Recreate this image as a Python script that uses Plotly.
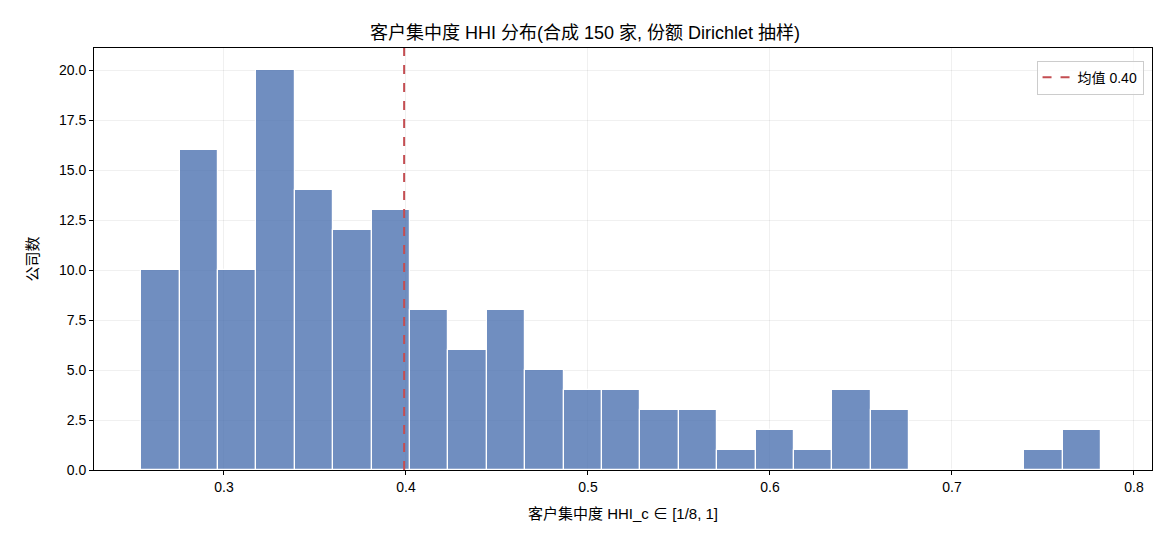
import numpy as np
import plotly.graph_objects as go

# Data
hhi_min = 0.2545
hhi_max = 0.782
counts = [10, 16, 10, 20, 14, 12, 13, 8, 6, 8, 5, 4, 4, 3, 3, 1, 2, 1, 4, 3, 0, 0, 0, 1, 2]
mean_hhi = 0.399

title = "客户集中度 HHI 分布(合成 150 家, 份额 Dirichlet 抽样)"
xlabel = "客户集中度 HHI_c ∈ [1/8, 1]"
ylabel = "公司数"
legend_label = f"均值 {mean_hhi:.2f}"

edges = np.linspace(hhi_min, hhi_max, len(counts) + 1)
centers = (edges[:-1] + edges[1:]) / 2
width = edges[1] - edges[0]

FONT = "Liberation Sans, Arial, Noto Sans CJK SC, sans-serif"

fig = go.Figure()
fig.add_trace(go.Bar(
    x=centers, y=counts, width=width,
    marker=dict(color="rgba(76,114,176,0.8)", line=dict(color="white", width=1.2)),
    showlegend=False, hoverinfo="x+y",
))
ymax = 21.1
fig.add_trace(go.Scatter(
    x=[mean_hhi, mean_hhi], y=[0, ymax], mode="lines",
    line=dict(color="#C44E52", width=2, dash="dash"),
    name=legend_label, showlegend=True,
))

fig.update_layout(
    width=1170, height=546,
    margin=dict(l=94, r=18, t=48, b=76),
    paper_bgcolor="white", plot_bgcolor="white",
    font=dict(family=FONT, size=14, color="black"),
    title=dict(text=title, x=0.5, xanchor="center", y=0.941, yanchor="middle",
               font=dict(size=18, family=FONT)),
    bargap=0,
    legend=dict(x=0.992, y=0.97, xanchor="right", yanchor="top",
                bgcolor="rgba(255,255,255,0.8)", bordercolor="#cccccc", borderwidth=1,
                font=dict(size=14)),
)
fig.update_xaxes(
    range=[0.2286, 0.8099], tickvals=[0.3, 0.4, 0.5, 0.6, 0.7, 0.8],
    ticktext=["0.3", "0.4", "0.5", "0.6", "0.7", "0.8"],
    showline=True, linecolor="black", linewidth=1, mirror=True,
    ticks="outside", ticklen=4, tickcolor="black",
    showgrid=True, gridcolor="rgba(0,0,0,0.06)", zeroline=False,
    title=dict(text=xlabel, font=dict(size=15), standoff=14),
)
fig.update_yaxes(
    range=[0, ymax], tickvals=[0, 2.5, 5, 7.5, 10, 12.5, 15, 17.5, 20],
    ticktext=["0.0", "2.5", "5.0", "7.5", "10.0", "12.5", "15.0", "17.5", "20.0"],
    showline=True, linecolor="black", linewidth=1, mirror=True,
    ticks="outside", ticklen=4, tickcolor="black",
    showgrid=True, gridcolor="rgba(0,0,0,0.06)", zeroline=False,
    title=dict(text=ylabel, font=dict(size=15), standoff=16),
)

fig.write_html("out.html")
